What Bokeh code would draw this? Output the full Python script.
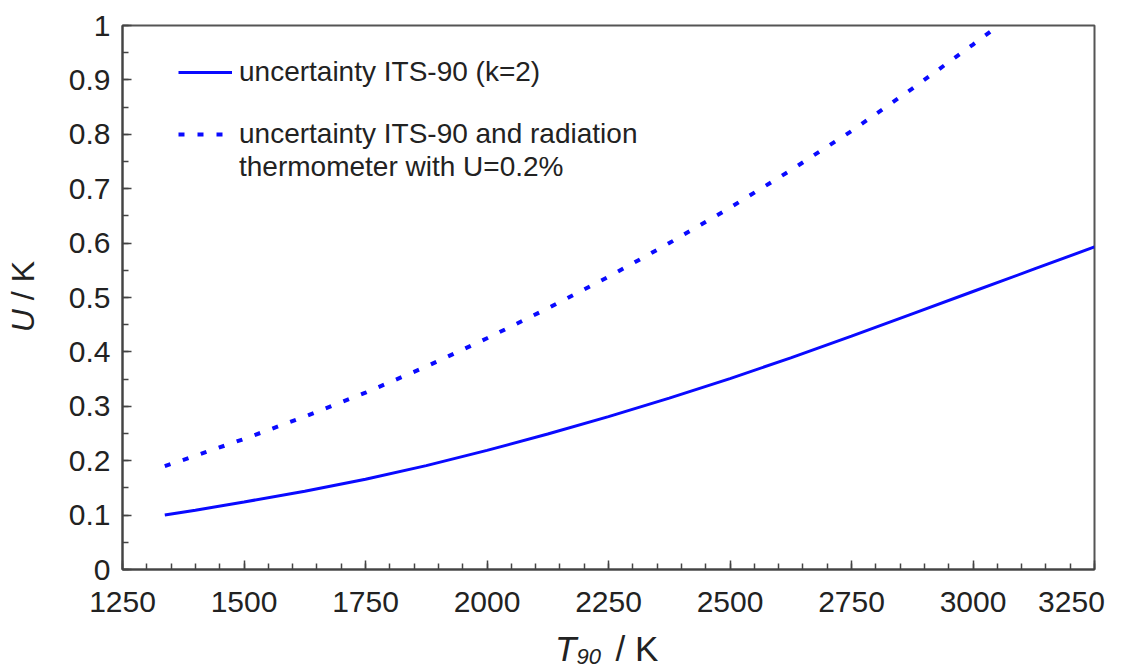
from bokeh.plotting import figure
from bokeh.models import (Range1d, Legend, LegendItem, SingleIntervalTicker,
                          CustomJSTickFormatter, Div)
from bokeh.layouts import row, column
from bokeh.embed import file_html
from bokeh.resources import INLINE

# ---- data ----
t_its = [1337, 1400, 1500, 1625, 1750, 1875, 2000, 2125, 2250, 2375, 2500,
         2625, 2750, 2875, 3000, 3125, 3250]
u_its = [0.100, 0.109, 0.124, 0.144, 0.166, 0.191, 0.219, 0.249, 0.281, 0.315,
         0.351, 0.389, 0.429, 0.470, 0.511, 0.552, 0.593]

t_rad = [1337, 1400, 1500, 1625, 1750, 1875, 2000, 2125, 2250, 2375, 2500,
         2625, 2750, 2875, 3000, 3053]
u_rad = [0.190, 0.209, 0.240, 0.281, 0.325, 0.373, 0.425, 0.480, 0.538, 0.600,
         0.665, 0.734, 0.806, 0.884, 0.965, 1.000]

label_its = "uncertainty ITS-90 (k=2)"
label_rad_1 = "uncertainty ITS-90 and radiation"
label_rad_2 = "thermometer with U=0.2%"

FONT = "Liberation Sans"
BLUE = "#0a0aff"
TXT = "#222222"

TOTAL_W, TOTAL_H = 1111, 669
YLAB_W = 36
P_W = TOTAL_W - YLAB_W
P_H = 620
XLAB_H = TOTAL_H - P_H

p = figure(width=P_W, height=P_H, output_backend="svg", toolbar_location=None,
           x_range=Range1d(1250, 3250), y_range=Range1d(0, 1),
           min_border_left=112 - YLAB_W, min_border_right=27, min_border_top=25,
           min_border_bottom=49)

r1 = p.line(t_its, u_its, line_color=BLUE, line_width=3)
r2 = p.line(t_rad, u_rad, line_color=BLUE, line_width=4, line_dash="6 13")
r_blank = p.line([], [], line_alpha=0)

p.xgrid.visible = False
p.ygrid.visible = False
p.outline_line_color = "#555555"
p.outline_line_width = 2

p.xaxis.ticker = SingleIntervalTicker(interval=250, num_minor_ticks=5)
p.yaxis.ticker = SingleIntervalTicker(interval=0.1, num_minor_ticks=2)
p.yaxis.formatter = CustomJSTickFormatter(
    code="var s = tick.toFixed(1); if (s.endsWith('.0')) s = s.slice(0, -2); return s;")
# keep the last x label inside the picture (as in the reference)
p.xaxis.formatter = CustomJSTickFormatter(
    code="var s = tick.toFixed(0); if (tick > 3200) s = s + '\\u00a0\\u00a0'; return s;")

for ax in (p.xaxis[0], p.yaxis[0]):
    ax.axis_line_color = "#444444"
    ax.axis_line_width = 2
    ax.major_tick_in = 9
    ax.major_tick_out = 0
    ax.minor_tick_in = 6
    ax.minor_tick_out = 0
    ax.major_tick_line_color = "#444444"
    ax.minor_tick_line_color = "#444444"
    ax.major_tick_line_width = 1.5
    ax.minor_tick_line_width = 1.5
    ax.major_label_text_font = FONT
    ax.major_label_text_font_size = "30px"
    ax.major_label_text_color = TXT
p.yaxis.major_label_standoff = 12
p.xaxis.major_label_standoff = 15


def make_legend(label, renderer, y):
    lg = Legend(items=[LegendItem(label=label, renderers=[renderer])], location=(56, y))
    lg.label_text_font = FONT
    lg.label_text_font_size = "28px"
    lg.label_text_color = TXT
    lg.glyph_width = 54
    lg.glyph_height = 20
    lg.label_standoff = 7
    lg.padding = 0
    lg.spacing = 0
    lg.margin = 0
    lg.border_line_alpha = 0
    lg.background_fill_alpha = 0
    return lg


p.add_layout(make_legend(label_its, r1, 481))
p.add_layout(make_legend(label_rad_1, r2, 419))
p.add_layout(make_legend(label_rad_2, r_blank, 386))

# axis titles as real HTML text (italic symbol, subscript, upright unit)
ylab = Div(width=YLAB_W, height=TOTAL_H, text=(
    "<div style='width:%dpx;height:546px;margin-top:19px;display:flex;"
    "align-items:center;justify-content:center;'>"
    "<div style='writing-mode:vertical-rl;transform:rotate(180deg);"
    "font-family:\"Liberation Sans\";font-size:32px;color:%s;white-space:nowrap;"
    "line-height:1;'><i>U</i> / K</div></div>") % (YLAB_W, TXT))

xlab = Div(width=P_W, height=XLAB_H, text=(
    "<div style='padding-left:504px;padding-top:6px;font-family:\"Liberation Sans\";"
    "font-size:35px;line-height:1;color:%s;white-space:nowrap;'>"
    "<i>T</i><span style='font-size:22px;font-style:italic;position:relative;"
    "top:3px;'>90</span><span style='margin-left:5px;'> / K</span></div>") % TXT)

layout = row(ylab, column(p, xlab, spacing=0), spacing=0)

open("out.html", "w").write(file_html(layout, INLINE))
